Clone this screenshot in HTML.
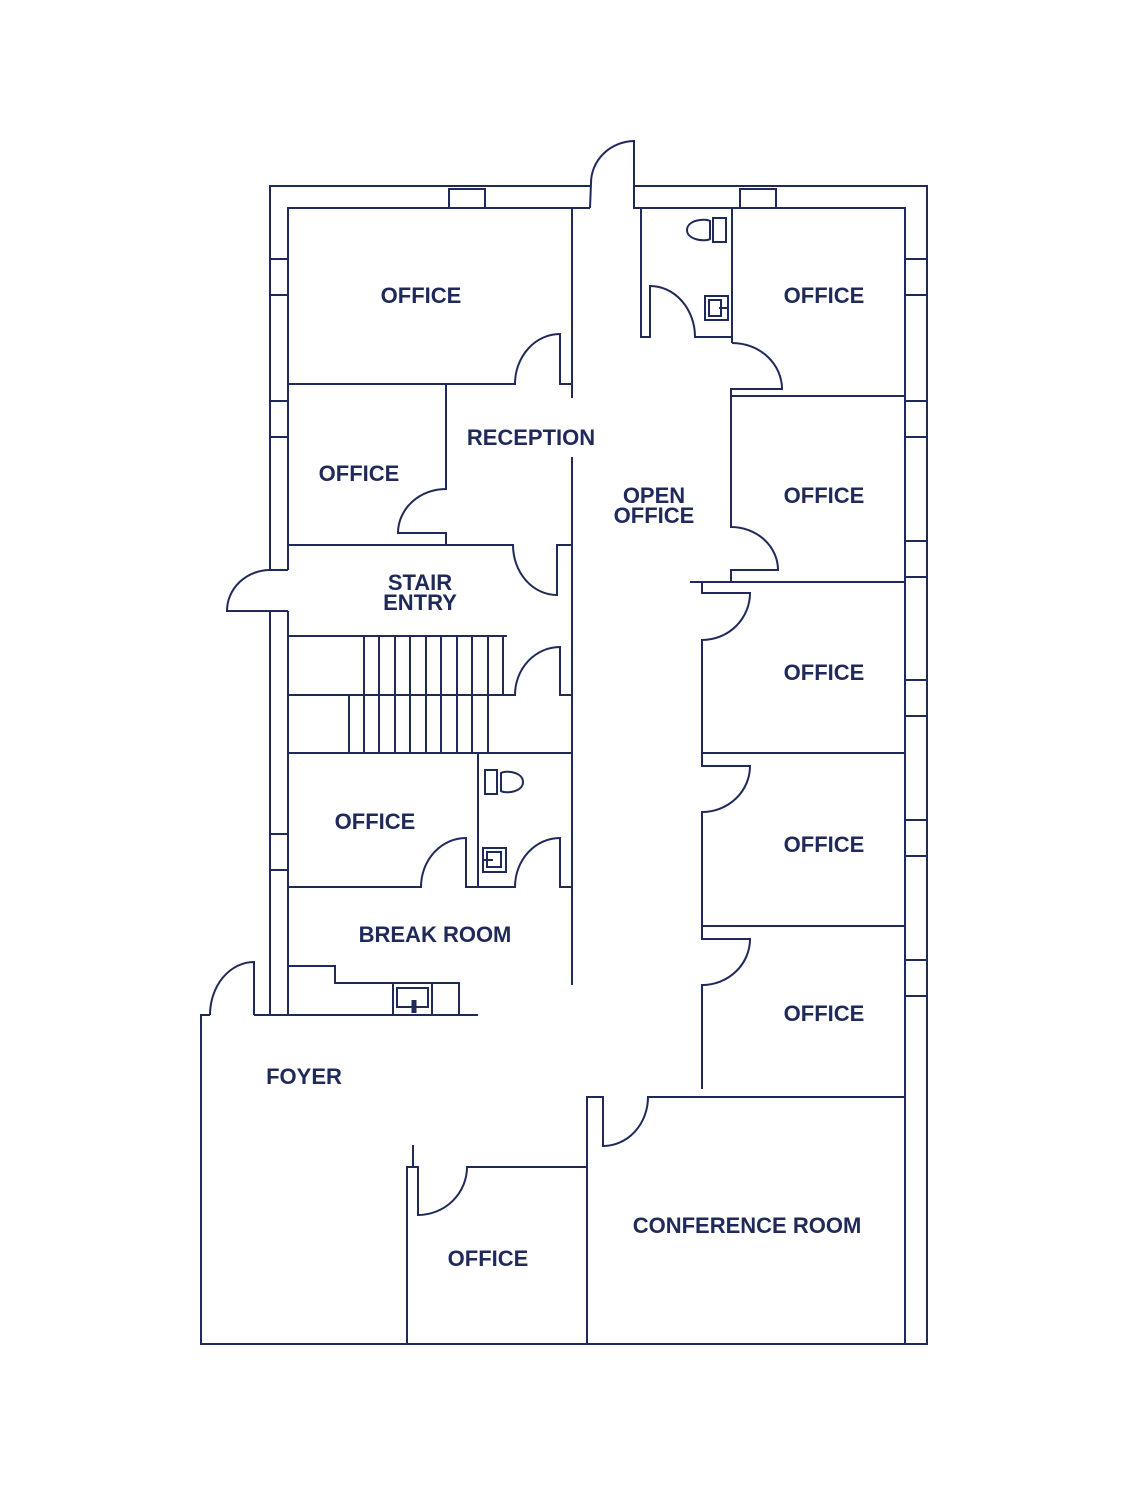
<!DOCTYPE html>
<html><head><style>
html,body{margin:0;padding:0;background:#fff;}
svg{display:block}
text{font-family:"Liberation Sans",sans-serif;font-weight:bold;font-size:22px;fill:#1f2a5a;text-anchor:middle;}
</style></head><body>
<svg width="1132" height="1500" viewBox="0 0 1132 1500" xmlns="http://www.w3.org/2000/svg">
<g fill="none" stroke="#1f2a5a" stroke-width="2">
<path d="M270,570 V186 H590 M635,186 H927 V1344 H201 V1015 H210"/>
<path d="M288,570 V208 H590 M641,208 H905 V1344"/>
<path d="M590,208 L591,183 A44,42 0 0 1 634,141 V208 H641"/>
<rect x="449" y="189" width="36" height="19"/>
<rect x="740" y="189" width="36" height="19"/>
<rect x="270" y="259" width="18" height="36"/>
<rect x="270" y="401" width="18" height="36"/>
<rect x="270" y="834" width="18" height="36"/>
<rect x="905" y="259" width="22" height="36"/>
<rect x="905" y="401" width="22" height="36"/>
<rect x="905" y="541" width="22" height="36"/>
<rect x="905" y="680" width="22" height="36"/>
<rect x="905" y="820" width="22" height="36"/>
<rect x="905" y="960" width="22" height="36"/>
<path d="M270,570 H288 M270,570 A43,41 0 0 0 227,611 H288 M270,611 V1015 M288,611 V1015"/>
<path d="M288,384 H515 A45,50 0 0 1 560,334 V384 H572 M572,208 V398 M572,457 V985"/>
<path d="M446,384 V489 A48,44 0 0 0 398,533 H446 V545 M288,545 H513 A44,50 0 0 0 557,595 V545 H572"/>
<path d="M288,636 H507 M288,695 H515 A45,48 0 0 1 560,647 V695 H572 M288,753 H572"/>
<path d="M364,636V695M379,636V695M395,636V695M410,636V695M426,636V695M441,636V695M457,636V695M472,636V695M488,636V695M503,636V695"/>
<path d="M349,695V753M364,695V753M379,695V753M395,695V753M410,695V753M426,695V753M441,695V753M457,695V753M472,695V753M488,695V753"/>
<path d="M478,753 V887 M288,887 H421 A45,49 0 0 1 466,838 V887 H515 A45,49 0 0 1 560,838 V887 H572"/>
<rect x="485" y="770" width="12" height="24"/>
<path d="M501,773 C506,770 523,772 523,782 C523,792 506,794 501,791 Z"/>
<rect x="483" y="848" width="23" height="24"/>
<rect x="487" y="852" width="14" height="15"/>
<path d="M483,860 H493"/>
<path d="M287,966 H335 V983 H459 V1015 M254,1015 H478"/>
<rect x="393" y="983" width="39" height="32"/>
<rect x="397" y="988" width="31" height="19"/>
<path d="M414,1000 V1013" stroke-width="5"/>
<path d="M254,1015 V962 A44,53 0 0 0 210,1015"/>
<path d="M407,1344 V1167 H418 V1215 A49,48 0 0 0 467,1167 H587 M413,1145 V1167"/>
<path d="M587,1344 V1097 H603 V1146 A45,49 0 0 0 648,1097 H905"/>
<path d="M641,208 V337 H650 V286 A45,51 0 0 1 695,337 H732 M732,208 V343"/>
<rect x="713" y="218" width="13" height="24"/>
<path d="M710,221 C705,218 687,220 687,230 C687,240 705,242 710,239 Z"/>
<rect x="705" y="296" width="23" height="24"/>
<rect x="709" y="300" width="12" height="16"/>
<path d="M719,308 H728"/>
<path d="M732,343 A50,46 0 0 1 782,389 H731 V396 H905 M731,396 V527 A47,43 0 0 1 778,570 H731 V582 M690,582 H905"/>
<path d="M702,582 V593 H750 A48,47 0 0 1 702,640 V753 H905"/>
<path d="M702,753 V766 H750 A48,46 0 0 1 702,812 V926 H905"/>
<path d="M702,926 V939 H750 A48,46 0 0 1 702,985 V1089"/>
</g>
<text x="421" y="303">OFFICE</text>
<text x="359" y="481">OFFICE</text>
<text x="531" y="445">RECEPTION</text>
<text x="654" y="503">OPEN</text>
<text x="654" y="523">OFFICE</text>
<text x="824" y="303">OFFICE</text>
<text x="824" y="503">OFFICE</text>
<text x="824" y="680">OFFICE</text>
<text x="824" y="852">OFFICE</text>
<text x="824" y="1021">OFFICE</text>
<text x="420" y="590">STAIR</text>
<text x="420" y="610">ENTRY</text>
<text x="375" y="829">OFFICE</text>
<text x="435" y="942">BREAK ROOM</text>
<text x="304" y="1084">FOYER</text>
<text x="488" y="1266">OFFICE</text>
<text x="747" y="1233">CONFERENCE ROOM</text>
</svg>
</body></html>
